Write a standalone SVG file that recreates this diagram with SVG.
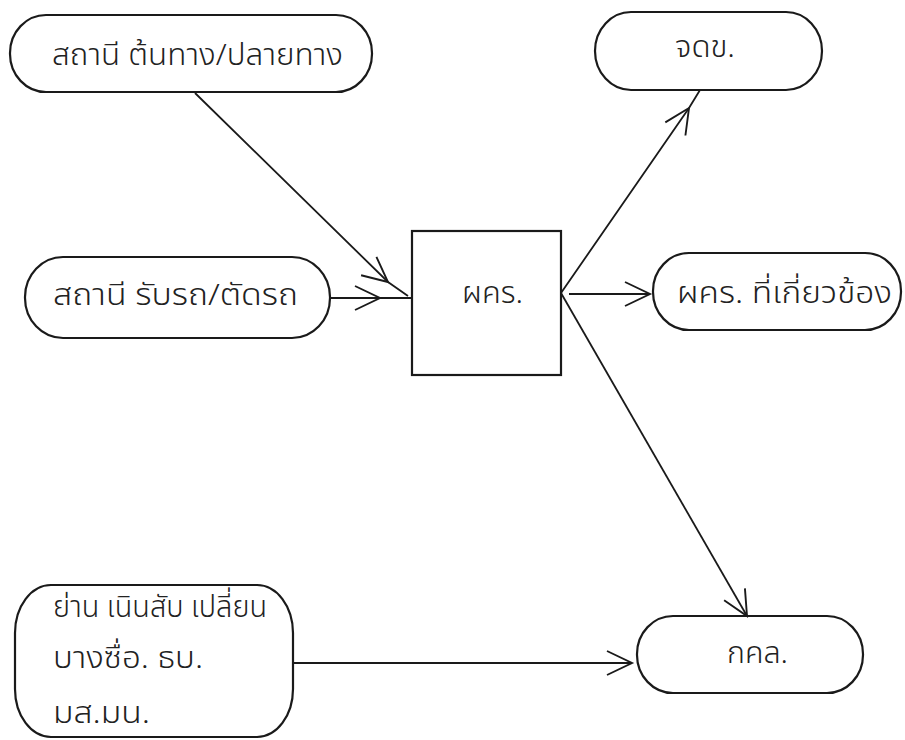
<svg xmlns="http://www.w3.org/2000/svg" width="905" height="740" viewBox="0 0 905 740">
  <defs>
    <style>
      .shape { fill: none; stroke: #1a1a1a; stroke-width: 2.2; }
      .link { fill: none; stroke: #1a1a1a; stroke-width: 1.8; }
      .label { font-family: "Noto Sans Thai", "Noto Sans", "DejaVu Sans", sans-serif; font-size: 30px; font-weight: 300; fill: #222222; }
    </style>
    <marker id="chevron" markerUnits="userSpaceOnUse" markerWidth="40" markerHeight="40" viewBox="-30 -20 40 40" refX="0" refY="0" orient="auto" overflow="visible">
      <path d="M-25,-12 L0,0 L-25,12" fill="none" stroke="#1a1a1a" stroke-width="1.9"/>
    </marker>
  </defs>
  <rect width="905" height="740" fill="#ffffff"/>

  <!-- connectors -->
  <g id="connectors">
    <polyline class="link" points="195,93 388,282 408,296" marker-mid="url(#chevron)"/>
    <polyline class="link" points="330,298 380,298 412,298" marker-mid="url(#chevron)"/>
    <polyline class="link" points="561,293 689,108 700,90" marker-mid="url(#chevron)"/>
    <line class="link" x1="569" y1="294" x2="650" y2="294" marker-end="url(#chevron)"/>
    <line class="link" x1="561" y1="293" x2="747" y2="616" marker-end="url(#chevron)"/>
    <line class="link" x1="293" y1="663" x2="632" y2="663" marker-end="url(#chevron)"/>
  </g>

  <!-- origin / terminal stations -->
  <g id="node-terminal-stations">
    <rect class="shape" x="10" y="15" width="362" height="77" rx="36" ry="38"/>
    <text class="label" x="52" y="65" textLength="291" lengthAdjust="spacingAndGlyphs">สถานี ต้นทาง/ปลายทาง</text>
  </g>

  <!-- pick-up / drop-off stations -->
  <g id="node-pickup-stations">
    <rect class="shape" x="25" y="257" width="305" height="81" rx="38" ry="40"/>
    <text class="label" x="53" y="305" textLength="245" lengthAdjust="spacingAndGlyphs">สถานี รับรถ/ตัดรถ</text>
  </g>

  <!-- hump yard -->
  <g id="node-hump-yard">
    <rect class="shape" x="15" y="585" width="278" height="152" rx="36" ry="48"/>
    <text class="label" x="53" y="617" textLength="214" lengthAdjust="spacingAndGlyphs">ย่าน เนินสับ เปลี่ยน</text>
    <text class="label" x="53" y="668" textLength="150" lengthAdjust="spacingAndGlyphs">บางซื่อ. ธบ.</text>
    <text class="label" x="53" y="723" textLength="97" lengthAdjust="spacingAndGlyphs">มส.มน.</text>
  </g>

  <!-- central box -->
  <g id="node-center">
    <rect class="shape" x="412" y="231" width="149" height="144"/>
    <text class="label" x="462" y="303" textLength="61" lengthAdjust="spacingAndGlyphs">ผคร.</text>
  </g>

  <g id="node-jdk">
    <rect class="shape" x="595" y="12" width="227" height="78" rx="36" ry="39"/>
    <text class="label" x="675" y="57" textLength="60" lengthAdjust="spacingAndGlyphs">จดข.</text>
  </g>

  <g id="node-related">
    <rect class="shape" x="653" y="253" width="248" height="77" rx="36" ry="38"/>
    <text class="label" x="677" y="303" textLength="215" lengthAdjust="spacingAndGlyphs">ผคร. ที่เกี่ยวข้อง</text>
  </g>

  <g id="node-kkl">
    <rect class="shape" x="637" y="616" width="226" height="77" rx="36" ry="38"/>
    <text class="label" x="727" y="663" textLength="61" lengthAdjust="spacingAndGlyphs">กคล.</text>
  </g>
</svg>
